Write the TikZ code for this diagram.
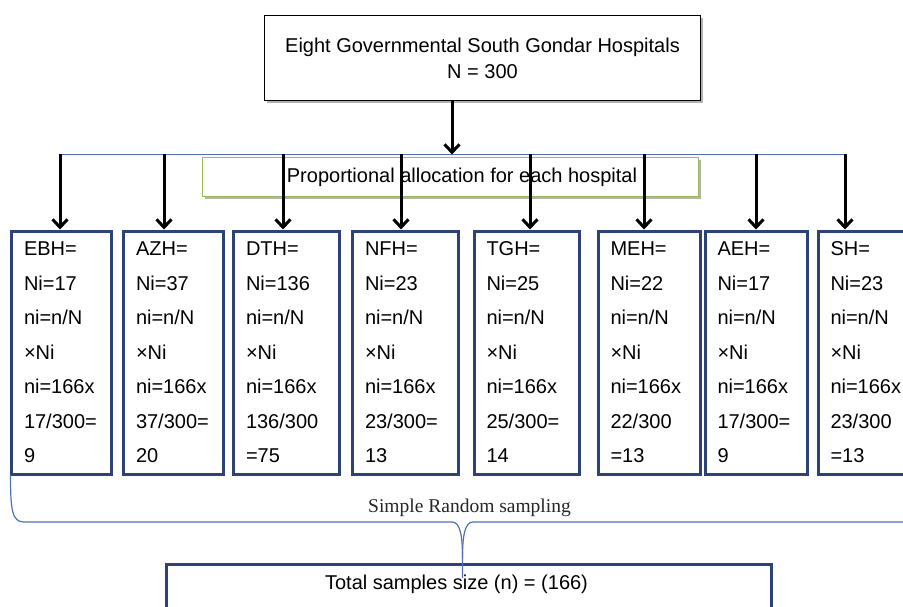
\documentclass[tikz,border=0pt]{standalone}
\usepackage{fontspec}
\setmainfont{Liberation Sans}
\newfontfamily\serifface{Liberation Serif}
\usetikzlibrary{arrows.meta,shadows}
\definecolor{navy}{RGB}{47,66,120}
\definecolor{lineblue}{RGB}{80,112,188}
\definecolor{boxgreen}{RGB}{155,187,89}
\begin{document}
\begin{tikzpicture}[x=1pt,y=-1pt,
  font=\fontsize{20}{24}\selectfont,
  arr/.style={line width=3pt,-{Straight Barb[length=8pt,width=15pt]}},
  hosp/.style n args={2}{draw=navy,line width=3pt,anchor=north west,
    minimum width=#1,minimum height=243pt,text width=#2,align=left,
    inner xsep=12.5pt,inner ysep=0pt,font=\fontsize{20}{34.5}\selectfont},
  shad/.style={drop shadow={shadow xshift=2pt,shadow yshift=-2.5pt,fill=black,opacity=0.3}},
  bluel/.style={draw=lineblue,line width=1.3pt}]
\useasboundingbox (0,0) rectangle (903,607);
\clip (0,0) rectangle (903,607);

% top box
\node[draw,line width=1pt,fill=white,shad,minimum width=436pt,minimum height=85pt,
  align=center,font=\fontsize{20}{26}\selectfont] (top) at (482.5,58)
  {Eight Governmental South Gondar Hospitals\\N = 300};

% allocation box
\node[draw=boxgreen,line width=1.5pt,fill=white,shad,minimum width=496pt,minimum height=39pt] (alloc) at (450.5,177) {};
\node[anchor=base,inner sep=0pt] (alloctext) at (462,183) {Proportional allocation for each hospital};

% distribution line
\coordinate (c0) at (452,154.5);
\coordinate (c1) at (60,154.5);
\coordinate (c2) at (164,154.5);
\coordinate (c3) at (283,154.5);
\coordinate (c4) at (401,154.5);
\coordinate (c5) at (530,154.5);
\coordinate (c6) at (644,154.5);
\coordinate (c7) at (756,154.5);
\coordinate (c8) at (845,154.5);
\draw[bluel] (c1) -- (c8);

% hospital boxes
\node[hosp={100pt}{75pt}] (ebh) at (10,229.5) {EBH=\\Ni=17\\ni=n/N\\×Ni\\ni=166x\\17/300=\\9};
\node[hosp={100pt}{75pt}] (azh) at (122,229.5) {AZH=\\Ni=37\\ni=n/N\\×Ni\\ni=166x\\37/300=\\20};
\node[hosp={106pt}{81pt}] (dth) at (232,229.5) {DTH=\\Ni=136\\ni=n/N\\×Ni\\ni=166x\\136/300\\=75};
\node[hosp={106pt}{81pt}] (nfh) at (351,229.5) {NFH=\\Ni=23\\ni=n/N\\×Ni\\ni=166x\\23/300=\\13};
\node[hosp={105pt}{80pt}] (tgh) at (472.5,229.5) {TGH=\\Ni=25\\ni=n/N\\×Ni\\ni=166x\\25/300=\\14};
\node[hosp={102pt}{77pt}] (meh) at (596.5,229.5) {MEH=\\Ni=22\\ni=n/N\\×Ni\\ni=166x\\22/300\\=13};
\node[hosp={102pt}{77pt}] (aeh) at (703.5,229.5) {AEH=\\Ni=17\\ni=n/N\\×Ni\\ni=166x\\17/300=\\9};
\node[hosp={102pt}{77pt}] (sh) at (816.5,229.5) {SH=\\Ni=23\\ni=n/N\\×Ni\\ni=166x\\23/300\\=13};

% arrows
\draw[arr] (top.south -| c0) -- (c0);
\foreach \c/\h in {c1/ebh,c2/azh,c3/dth,c4/nfh,c5/tgh,c6/meh,c7/aeh,c8/sh}
  \draw[arr] (\c) -- (\c |- \h.north);

% bottom box
\node[draw=navy,line width=3pt,anchor=north west,minimum width=605pt,minimum height=80pt] (tot) at (164.5,562.5) {};
\node[anchor=base,inner sep=0pt] (tottext) at (456.5,589) {Total samples size (n) = (166)};

% brace
\coordinate (bl) at (10.5,475);
\coordinate (bt) at (462.5,558);
\coordinate (bm) at (462.5,578);
\coordinate (br) at (910,522);
\draw[bluel,line width=1.2pt] (bl) .. controls (10.5,510) and (12,522) .. (24,522) -- (452,522)
  .. controls (460,522) and (462.5,535) .. (bt) -- (bm);
\draw[bluel,line width=1.2pt] (bt) .. controls (462.5,535) and (465,522) .. (473,522) -- (br);
\node[anchor=base,inner sep=0pt,text=black!85,font=\serifface\fontsize{19.5}{22}\selectfont] (srs) at (469.5,512) {Simple Random sampling};
\end{tikzpicture}
\end{document}
